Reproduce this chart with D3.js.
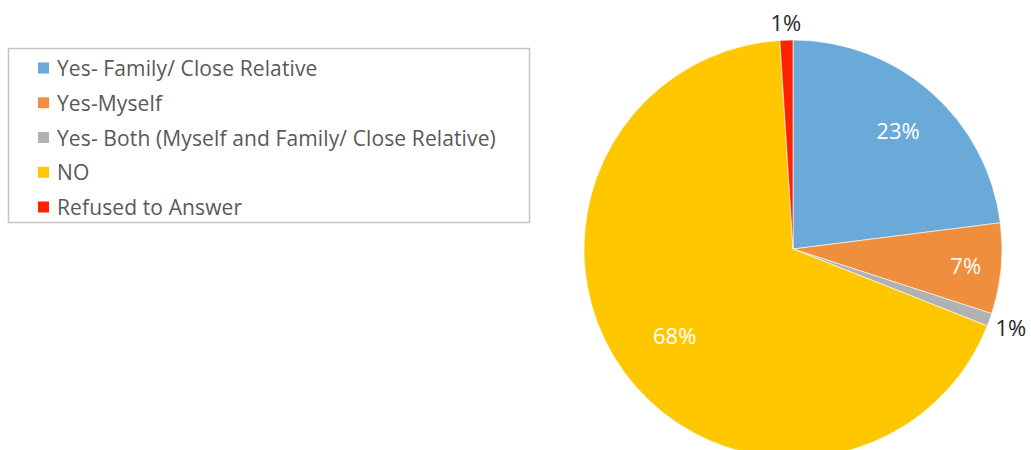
<!DOCTYPE html>
<html>
<head>
<meta charset="utf-8">
<script src="https://cdn.jsdelivr.net/npm/d3@7"></script>
<style>
  html, body { margin: 0; padding: 0; background: #fff; }
  svg { display: block; }
</style>
</head>
<body>
<svg id="chart" width="1031" height="450"></svg>
<script>
// Survey responses
const categories = [
  "Yes- Family/ Close Relative",
  "Yes-Myself",
  "Yes- Both (Myself and Family/ Close Relative)",
  "NO",
  "Refused to Answer"
];
const values = [23, 7, 1, 68, 1];
const valueLabels = ["23%", "7%", "1%", "68%", "1%"];
const colors = ["#6AAAD8", "#EF8F3D", "#B1B1B1", "#FFC700", "#FF2200"];

// Where each value label sits: inside the slice (as a fraction of the radius) or outside it
const labelPlacement = [
  { inside: true, r: 0.76 },
  { inside: true, r: 0.83 },
  { inside: false },
  { inside: true, r: 0.70 },
  { inside: false }
];

const svg = d3.select("#chart");
const font = "'Open Sans', Lato, sans-serif";

// ---- Pie ----
const cx = 793, cy = 249, R = 209;
const pie = d3.pie().sort(null).value(d => d);
const arcs = pie(values);
const arc = d3.arc().innerRadius(0).outerRadius(R);

const g = svg.append("g").attr("transform", `translate(${cx},${cy})`);
g.selectAll("path.slice")
  .data(arcs)
  .join("path")
  .attr("class", "slice")
  .attr("d", arc)
  .attr("fill", (d, i) => colors[i])
  .attr("stroke", "#fff")
  .attr("stroke-width", 0.6);

// Value labels
arcs.forEach((d, i) => {
  const mid = (d.startAngle + d.endAngle) / 2;
  const sx = Math.sin(mid), sy = -Math.cos(mid);
  const p = labelPlacement[i];
  const t = g.append("text")
    .text(valueLabels[i])
    .attr("font-family", font)
    .attr("font-size", 22)
    .attr("text-anchor", "middle")
    .attr("dominant-baseline", "central");
  if (p.inside) {
    t.attr("x", sx * R * p.r).attr("y", sy * R * p.r).attr("fill", "#FFFFFF");
  } else {
    t.attr("fill", "#262626");
    const bb = t.node().getBBox();
    const proj = Math.abs(sx) * bb.width / 2 + Math.abs(sy) * bb.height / 2;
    const rr = R + 3 + proj;
    t.attr("x", sx * rr).attr("y", sy * rr);
  }
});

// ---- Legend ----
const legend = svg.append("g");
legend.append("rect")
  .attr("x", 8.5).attr("y", 48.5)
  .attr("width", 521).attr("height", 174)
  .attr("fill", "#fff")
  .attr("stroke", "#C4C4C4")
  .attr("stroke-width", 1.5);

const rowY = d3.scalePoint().domain(categories).range([68, 207]);
const items = legend.selectAll("g.item")
  .data(categories)
  .join("g")
  .attr("class", "item")
  .attr("transform", d => `translate(0,${rowY(d)})`);
items.append("rect")
  .attr("x", 38).attr("y", -5.5)
  .attr("width", 11).attr("height", 11)
  .attr("fill", (d, i) => colors[i]);
items.append("text")
  .attr("x", 57).attr("y", 0)
  .attr("dominant-baseline", "central")
  .attr("font-family", font)
  .attr("font-size", 21)
  .attr("letter-spacing", 0.12)
  .attr("fill", "#595959")
  .text(d => d);
</script>
</body>
</html>
